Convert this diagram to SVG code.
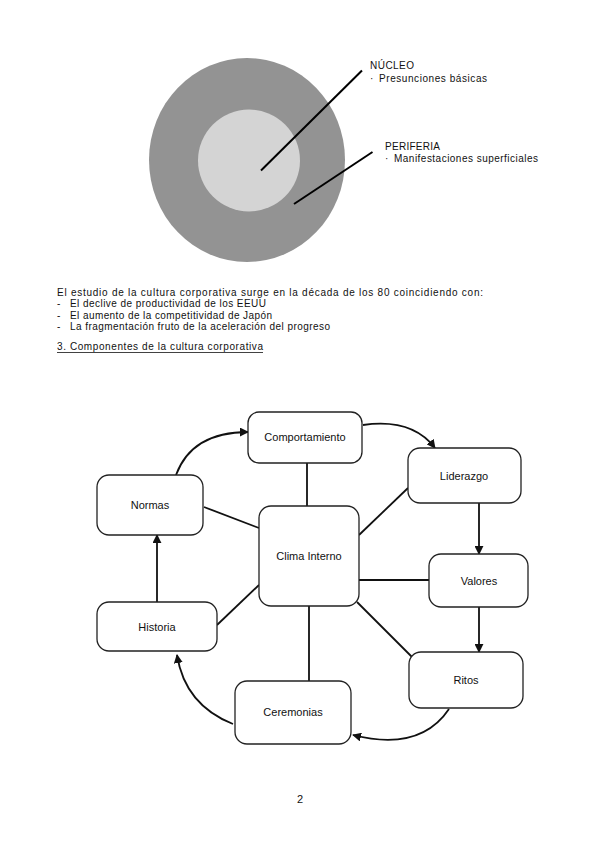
<svg xmlns="http://www.w3.org/2000/svg" width="599" height="848" viewBox="0 0 599 848">
<style>
text{font-family:"Liberation Sans",Arial,sans-serif;fill:#111}
.t{font-size:10px}
.n{font-size:11px;text-anchor:middle}
.box{fill:#fff;stroke:#222;stroke-width:1.3}
.c{stroke:#111;stroke-width:1.8;fill:none}
.a{stroke:#111;stroke-width:1.8;fill:none;marker-end:url(#ah)}
</style>
<defs>
<marker id="ah" viewBox="0 0 10 10" refX="9" refY="5" markerWidth="5" markerHeight="5" orient="auto" markerUnits="strokeWidth">
<path d="M0,0 L10,5 L0,10 Z" fill="#111"/>
</marker>
</defs>
<rect width="599" height="848" fill="#fff"/>
<g id="circles">
<ellipse cx="247" cy="160" rx="98" ry="102" fill="#939393"/>
<circle cx="249" cy="160.5" r="51" fill="#d4d4d4"/>
<line x1="261" y1="170.5" x2="362" y2="70.5" stroke="#000" stroke-width="2"/>
<line x1="294" y1="204" x2="372.5" y2="152" stroke="#000" stroke-width="2"/>
<text class="t" x="370" y="69" textLength="44" lengthAdjust="spacing">NÚCLEO</text>
<text class="t" x="370" y="82">·</text>
<text class="t" x="379" y="82" textLength="108" lengthAdjust="spacing">Presunciones básicas</text>
<text class="t" x="385" y="150" textLength="55" lengthAdjust="spacing">PERIFERIA</text>
<text class="t" x="385" y="162">·</text>
<text class="t" x="394" y="162" textLength="144" lengthAdjust="spacing">Manifestaciones superficiales</text>
</g>
<g id="paragraph">
<text class="t" x="57" y="295.5" textLength="426" lengthAdjust="spacing">El estudio de la cultura corporativa surge en la década de los 80 coincidiendo con:</text>
<text class="t" x="57" y="307">-</text>
<text class="t" x="70" y="307" textLength="196" lengthAdjust="spacing">El declive de productividad de los EEUU</text>
<text class="t" x="57" y="318.5">-</text>
<text class="t" x="70" y="318.5" textLength="202" lengthAdjust="spacing">El aumento de la competitividad de Japón</text>
<text class="t" x="57" y="330">-</text>
<text class="t" x="70" y="330" textLength="260" lengthAdjust="spacing">La fragmentación fruto de la aceleración del progreso</text>
<text class="t" x="57" y="350" textLength="206" lengthAdjust="spacing">3. Componentes de la cultura corporativa</text>
<line x1="57" y1="352.5" x2="263" y2="352.5" stroke="#111" stroke-width="0.8"/>
</g>
<g id="connectors">
<line class="c" x1="307" y1="463" x2="307" y2="506"/>
<line class="c" x1="204" y1="507" x2="259" y2="528"/>
<line class="c" x1="408" y1="488" x2="359" y2="535"/>
<line class="c" x1="359" y1="580" x2="429" y2="580"/>
<line class="c" x1="357" y1="602" x2="412" y2="657"/>
<line class="c" x1="309" y1="606" x2="309" y2="681"/>
<line class="c" x1="217" y1="625" x2="259" y2="585"/>
<path class="a" d="M176,475 Q192,432 248,432"/>
<path class="a" d="M363,425 Q412,418 435,448"/>
<line class="a" x1="479" y1="503" x2="479" y2="554"/>
<line class="a" x1="479" y1="607" x2="479" y2="652"/>
<path class="a" d="M449,709 Q420,752 353,735"/>
<path class="a" d="M233,724 Q185,705 177,655"/>
<line class="a" x1="157" y1="602" x2="157" y2="535"/>
</g>
<g id="comportamiento"><rect class="box" x="248" y="412" width="114" height="51" rx="11"/><text class="n" x="305" y="441">Comportamiento</text></g>
<g id="normas"><rect class="box" x="97" y="475" width="106" height="60" rx="12"/><text class="n" x="150" y="509">Normas</text></g>
<g id="clima"><rect class="box" x="259" y="506" width="100" height="100" rx="12"/><text class="n" x="309" y="560">Clima Interno</text></g>
<g id="liderazgo"><rect class="box" x="408" y="448" width="113" height="55" rx="12"/><text class="n" x="464" y="480">Liderazgo</text></g>
<g id="valores"><rect class="box" x="429" y="554" width="99" height="53" rx="12"/><text class="n" x="479" y="585">Valores</text></g>
<g id="ritos"><rect class="box" x="409" y="652" width="114" height="56" rx="12"/><text class="n" x="466" y="684">Ritos</text></g>
<g id="ceremonias"><rect class="box" x="235" y="681" width="116" height="63" rx="12"/><text class="n" x="293" y="716">Ceremonias</text></g>
<g id="historia"><rect class="box" x="97" y="602" width="120" height="49" rx="12"/><text class="n" x="157" y="631">Historia</text></g>
<text x="300" y="803" style="font-size:11px;text-anchor:middle">2</text>
</svg>
